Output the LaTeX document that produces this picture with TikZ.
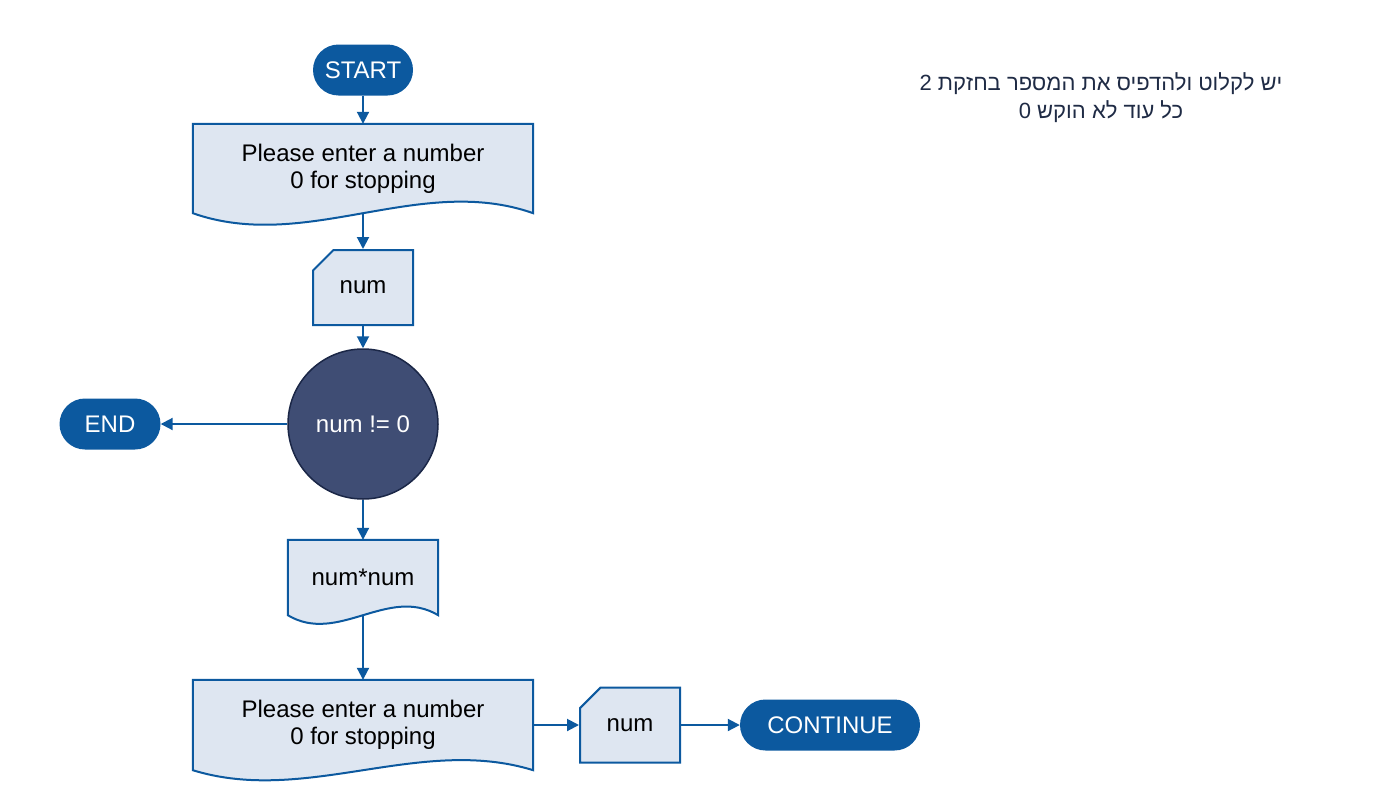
\documentclass[tikz,border=0pt]{standalone}
\usepackage{fontspec}
\setmainfont{Liberation Sans}
\newfontfamily\hebfont[Script=Hebrew]{Liberation Sans}
\TeXXeTstate=1
\usetikzlibrary{shapes.misc,arrows.meta,calc,backgrounds}
\definecolor{flowblue}{HTML}{0C599F}
\definecolor{docfill}{HTML}{DEE6F1}
\definecolor{condfill}{HTML}{3F4D74}
\definecolor{condline}{HTML}{1B2747}
\definecolor{notetext}{HTML}{1F2B45}
\tikzset{
    flowfont/.style={font=\fontsize{24}{27}\selectfont},
    terminal/.style={rounded rectangle, fill=flowblue, text=white, minimum height=51pt, inner sep=0pt, flowfont},
    doctext/.style={inner sep=0pt, align=center, flowfont},
    card/.style={chamfered rectangle, chamfered rectangle corners=north west,
        chamfered rectangle xsep=15pt, chamfered rectangle ysep=14pt,
        draw=flowblue, fill=docfill, line width=2pt, minimum width=100pt, minimum height=75pt, inner sep=0pt, flowfont},
    cond/.style={circle, fill=condfill, draw=condline, line width=1.5pt, text=white, minimum size=150pt, inner sep=0pt, flowfont},
    flow/.style={flowblue, line width=2pt, -{Triangle[length=12pt,width=12pt]}},
    docline/.style={draw=flowblue, fill=docfill, line width=2pt}
}
% document outline under a node: #1 node, #2 wave height
\newcommand{\docoutline}[2]{%
    \path[docline] (#1.south west) -- (#1.north west) -- (#1.north east) -- (#1.south east)
        .. controls ($(#1.south east)!1/3!(#1.south west)+(0,-#2)$) and ($(#1.south east)!2/3!(#1.south west)+(0,#2)$) .. (#1.south west) -- cycle;}
\begin{document}
\begin{tikzpicture}[x=1pt, y=-1pt]
        \useasboundingbox (0,0) rectangle (1378,790);
        \node[terminal, minimum width=100pt] (start) at (363,70) {START};
        \node[doctext, minimum width=340pt, minimum height=89pt] (prompt) at (363,168.5) {Please enter a number\\0 for stopping};
        \node[card] (numin) at (363,287.5) {num};
        \node[cond] (check) at (363,424) {num != 0};
        \node[terminal, minimum width=101pt] (end) at (110,424) {END};
        \node[doctext, minimum width=150pt, minimum height=75pt] (square) at (363,577.5) {num*num};
        \node[doctext, minimum width=340pt, minimum height=90pt] (prompttwo) at (363,725) {Please enter a number\\0 for stopping};
        \node[card] (numagain) at (630,725) {num};
        \node[terminal, minimum width=180pt] (cont) at (830,725) {CONTINUE};
        \node[align=center, text=notetext, font=\hebfont\fontsize{22}{28}\selectfont] (note) at (1101,98)
            {\beginR יש לקלוט ולהדפיס את המספר בחזקת 2\endR\\\beginR כל עוד לא הוקש 0\endR};
        \begin{scope}[on background layer]
            \docoutline{prompt}{40}
            \docoutline{square}{30}
            \docoutline{prompttwo}{35}
        \end{scope}
        \draw[flow] (start.south) -- (prompt.north);
        \draw[flow] (prompt.south) -- (numin.north);
        \draw[flow] (numin.south) -- (check.north);
        \draw[flow] (check.west) -- (end.east);
        \draw[flow] (check.south) -- (square.north);
        \draw[flow] (square.south) -- (prompttwo.north);
        \draw[flow] (prompttwo.east) -- (numagain.west);
        \draw[flow] (numagain.east) -- (cont.west);
    \end{tikzpicture}
\end{document}
